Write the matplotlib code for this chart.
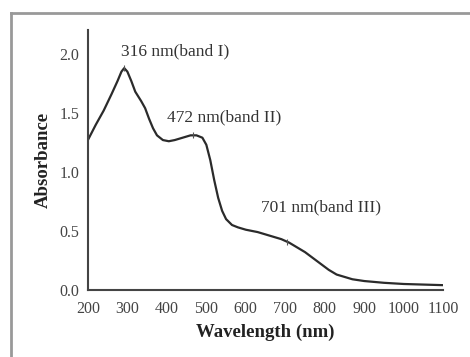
import matplotlib
matplotlib.use("Agg")
import matplotlib.pyplot as plt
from matplotlib.lines import Line2D

wavelength = [200, 220, 240, 260, 275, 285, 292, 300, 310, 320, 335, 345, 355, 365, 375,
              390, 405, 420, 440, 460, 475, 490, 500, 510, 520, 530, 540, 550, 565, 580,
              600, 630, 660, 690, 710, 730, 750, 770, 790, 810, 830, 850, 870, 900, 950,
              1000, 1050, 1100]
absorbance = [1.27, 1.40, 1.52, 1.66, 1.77, 1.85, 1.88, 1.85, 1.77, 1.68, 1.60, 1.54, 1.45, 1.37, 1.31,
              1.27, 1.26, 1.27, 1.29, 1.31, 1.31, 1.29, 1.23, 1.10, 0.93, 0.78, 0.67, 0.60, 0.55, 0.53,
              0.51, 0.49, 0.46, 0.43, 0.40, 0.36, 0.32, 0.27, 0.22, 0.17, 0.13, 0.11, 0.09, 0.075, 0.06,
              0.05, 0.045, 0.04]
peak_x = [292, 465, 705]
peak_y = [1.88, 1.31, 0.41]
band_labels = ["316 nm(band I)", "472 nm(band II)", "701 nm(band III)"]
label_x = [420, 545, 790]
label_y = [2.02, 1.46, 0.70]
xticks = [200, 300, 400, 500, 600, 700, 800, 900, 1000, 1100]
yticks = [0.0, 0.5, 1.0, 1.5, 2.0]

plt.rcParams['font.family'] = ['Liberation Serif', 'DejaVu Serif']

fig = plt.figure(figsize=(4.7, 3.57), dpi=100)
ax = fig.add_axes([0.187, 0.188, 0.756, 0.727])

ax.plot(wavelength, absorbance, color='#2b2b2b', lw=1.6)
ax.plot(peak_x, peak_y, linestyle='none', marker='|', markersize=5, color='#555555', mew=0.8)
for x, y, t in zip(label_x, label_y, band_labels):
    ax.text(x, y, t, ha='center', va='center', fontsize=12.5, color='#333333')

ax.set_xlim(200, 1100)
ax.set_ylim(0, 2.2)
ax.set_xticks(xticks)
ax.set_yticks(yticks)
ax.set_xticklabels([str(v) for v in xticks])
ax.set_yticklabels([f"{v:.1f}" for v in yticks])
ax.tick_params(length=0, labelsize=11.5, labelcolor='#444444')
ax.tick_params(axis='x', pad=8)
ax.tick_params(axis='y', pad=6)
for s in ['top', 'right']:
    ax.spines[s].set_visible(False)
for s in ['left', 'bottom']:
    ax.spines[s].set_color('#444444')
    ax.spines[s].set_linewidth(1.5)
ax.set_xlabel('Wavelength (nm)', fontsize=13.5, fontweight='bold', color='#222222', labelpad=5)
ax.set_ylabel('Absorbance', fontsize=13.5, fontweight='bold', color='#222222', labelpad=6)

# outer frame
fx = 10.5 / 470
fy = 1 - 13 / 357
fig.add_artist(Line2D([fx, 1.0], [fy, fy], transform=fig.transFigure, color='#999999', lw=2))
fig.add_artist(Line2D([fx, fx], [0, fy], transform=fig.transFigure, color='#999999', lw=2))

fig.savefig('out.png', dpi=100)
